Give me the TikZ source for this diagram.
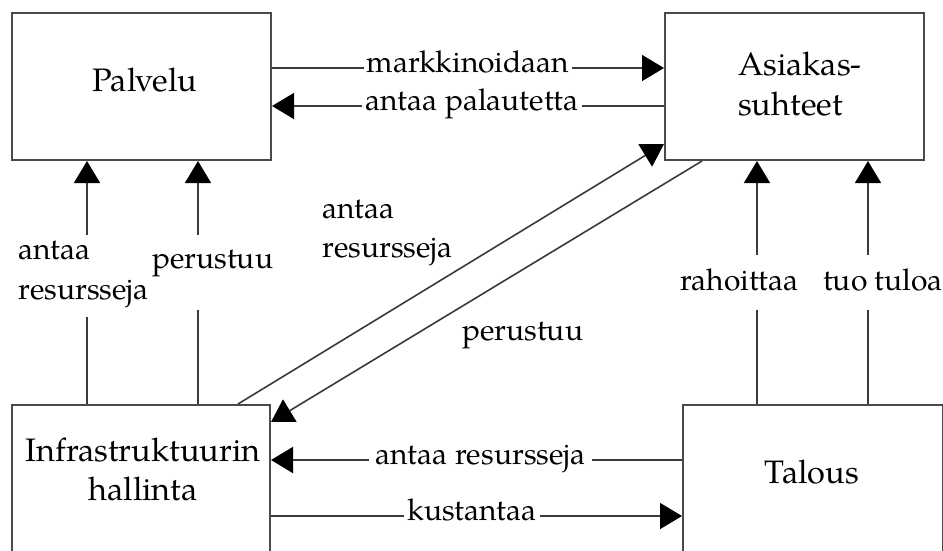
\documentclass[tikz,border=0pt]{standalone}
\usepackage{fontspec}
\setmainfont{TeX Gyre Pagella}
\usetikzlibrary{arrows.meta,calc}
\definecolor{boxgray}{HTML}{4A4A4A}
\definecolor{linegray}{HTML}{3A3A3A}
\begin{document}
\begin{tikzpicture}[x=1pt,y=-1pt,
  box/.style={draw=boxgray, line width=2pt, rectangle, inner sep=0pt, anchor=north west},
  boxtext/.style={font=\fontsize{32.5}{40}\selectfont, inner sep=0pt, text=black},
  lbl/.style={font=\fontsize{30}{39}\selectfont, inner sep=0pt, text=black},
  onl/.style={lbl, fill=white, inner xsep=3pt, inner ysep=1pt, anchor=base, yshift=-4.5pt},
  conn/.style={draw=linegray, line width=1.6pt, -{Triangle[length=22pt,width=26pt,color=black]}},
]
\useasboundingbox (0,0) rectangle (943,550);
% boxes
\node[box, minimum width=259pt, minimum height=147pt] (palvelu) at (11,12) {};
\node[box, minimum width=259pt, minimum height=147pt] (asiakas) at (664,12) {};
\node[box, minimum width=258pt, minimum height=160pt] (infra) at (11,404) {};
\node[box, minimum width=260pt, minimum height=160pt] (talous) at (682,404) {};
% box texts (base anchor of a multi-line node = baseline of its last line)
\node[boxtext, anchor=base] (palveluT) at (145,91) {Palvelu};
\node[boxtext, anchor=base west, align=left] (asiakasT) at (738,115) {Asiakas-\\suhteet};
\node[boxtext, anchor=base, align=center, font=\fontsize{32.5}{38.5}\selectfont] (infraT) at (143,500) {Infrastruktuurin\\hallinta};
\node[boxtext, anchor=base] (talousT) at (812,483) {Talous};
% top horizontal connectors
\draw[conn] ($(palvelu.north east)+(0,56)$) -- ($(asiakas.north west)+(0,56)$)
  node[onl, pos=.5] (lmark) {markkinoidaan};
\draw[conn] ($(asiakas.north west)+(0,94)$) -- ($(palvelu.north east)+(0,94)$)
  node[onl, pos=.49] (lpal) {antaa palautetta};
% bottom horizontal connectors
\draw[conn] ($(talous.north west)+(0,56)$) -- ($(infra.north east)+(0,56)$)
  node[onl, pos=.49, inner xsep=6pt] (lres) {antaa resursseja};
\draw[conn] ($(infra.north east)+(0,112)$) -- ($(talous.north west)+(0,112)$)
  node[onl, pos=.489] (lkus) {kustantaa};
% vertical connectors (with gaps for their texts)
\draw[conn] ($(infra.north west)+(76,0)$) -- ++(0,-87) ++(0,-82) -- ($(palvelu.south west)+(76,0)$);
\draw[conn] ($(infra.north west)+(187,0)$) -- ++(0,-94) ++(0,-75) -- ($(palvelu.south west)+(187,0)$);
\draw[conn] ($(talous.north west)+(75,0)$) -- ++(0,-94) ++(0,-55) -- ($(asiakas.south west)+(93,0)$);
\draw[conn] ($(talous.north west)+(186,0)$) -- ++(0,-94) ++(0,-55) -- ($(asiakas.south west)+(204,0)$);
% diagonal connectors
\draw[conn] ($(infra.north west)+(227,0)$) -- ($(asiakas.south west)+(0,-17)$);
\draw[conn] ($(asiakas.south west)+(38,0)$) -- ($(infra.north east)+(0,18)$);
% free labels
\node[lbl, anchor=base west, align=left, font=\fontsize{30}{40}\selectfont] (l1) at (18,299) {antaa\\resursseja};
\node[lbl, anchor=base west] (l2) at (152,268) {perustuu};
\node[lbl, anchor=base west] (l3) at (680,290.5) {rahoittaa};
\node[lbl, anchor=base west] (l4) at (823,290.5) {tuo tuloa};
\node[lbl, anchor=base west, align=left] (l5) at (322,257) {antaa\\resursseja};
\node[lbl, anchor=base west] (l6) at (462,340) {perustuu};
\end{tikzpicture}
\end{document}
